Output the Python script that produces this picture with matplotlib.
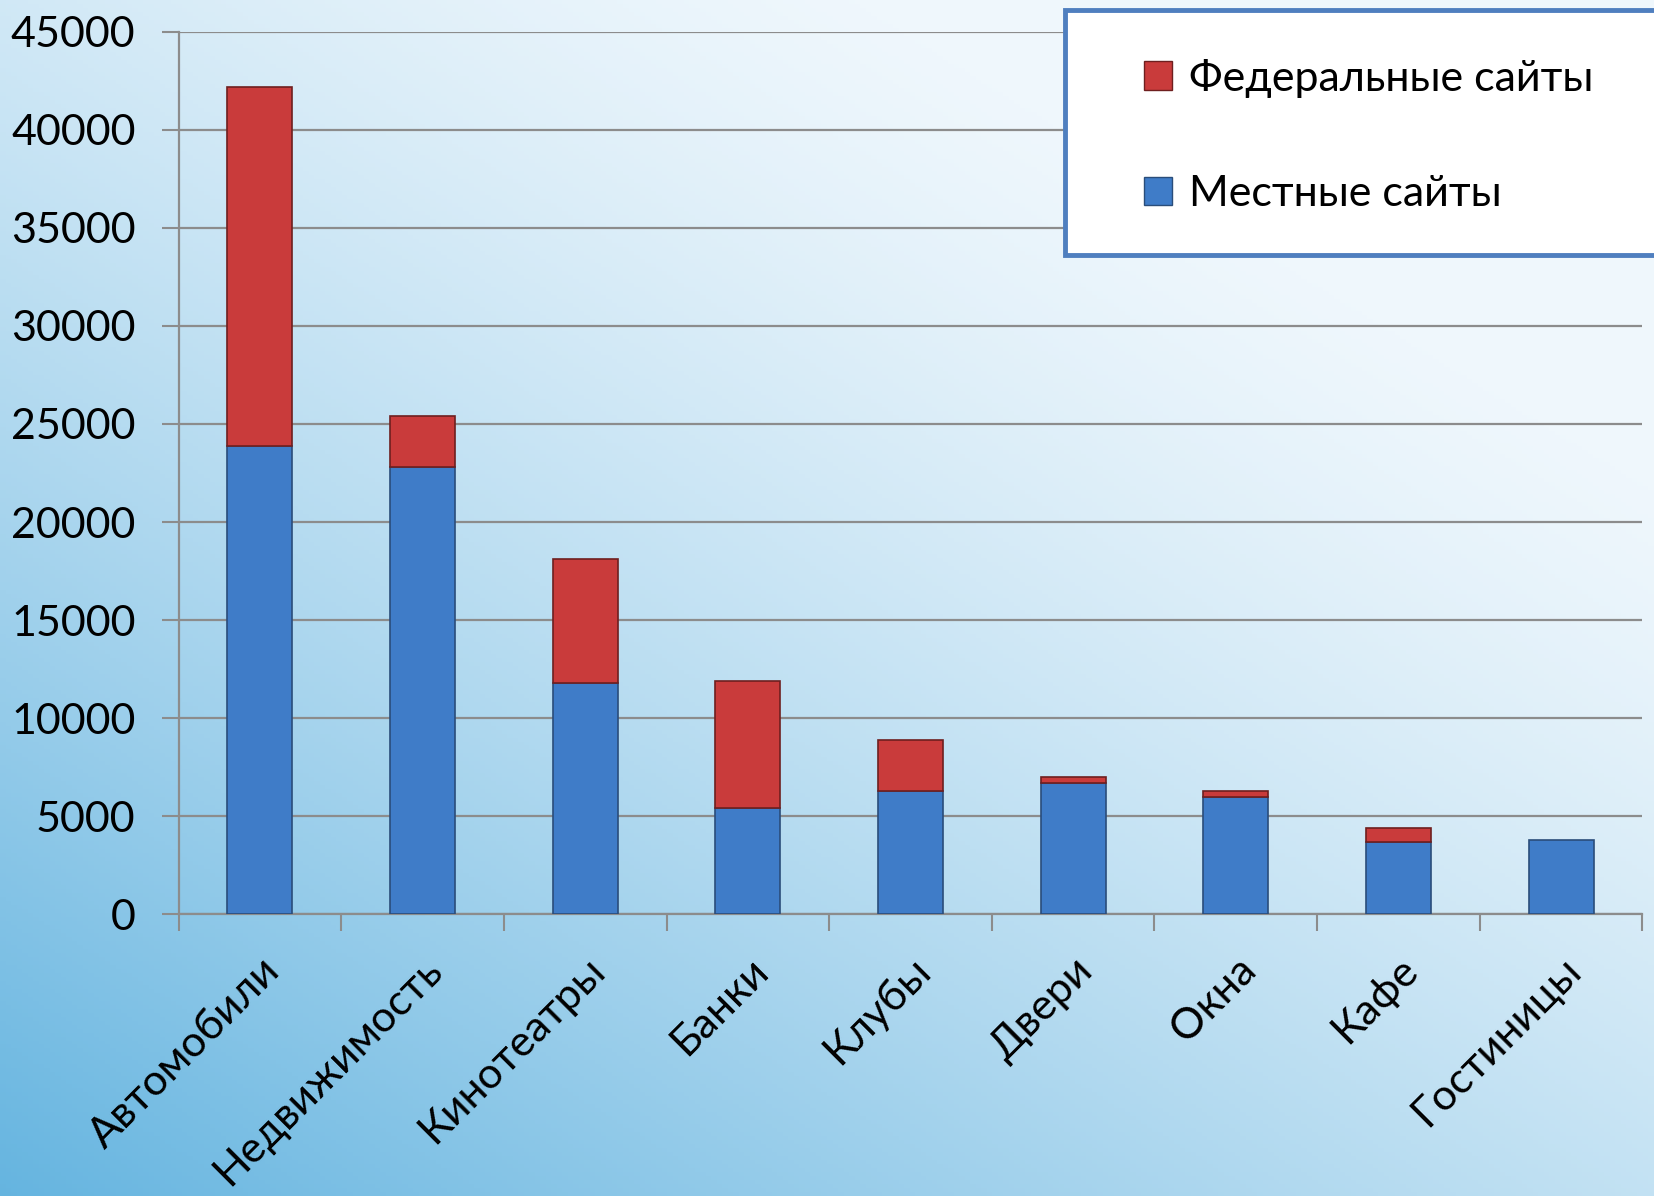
import numpy as np
import matplotlib.pyplot as plt
from matplotlib.patches import Rectangle, Patch

categories = ['Автомобили', 'Недвижимость', 'Кинотеатры', 'Банки', 'Клубы',
              'Двери', 'Окна', 'Кафе', 'Гостиницы']
local_sites = [23900, 22800, 11800, 5400, 6300, 6700, 6000, 3700, 3800]
federal_totals = [42200, 25400, 18100, 11900, 8900, 7000, 6300, 4400, 3800]
federal_sites = [t - l for t, l in zip(federal_totals, local_sites)]
yticks = [0, 5000, 10000, 15000, 20000, 25000, 30000, 35000, 40000, 45000]

plt.rcParams['font.family'] = ['Lato', 'Open Sans', 'DejaVu Sans']

fig = plt.figure(figsize=(16.54, 11.96), dpi=100)

# background gradient: light top-right, blue towards bottom-left
bg = fig.add_axes([0, 0, 1, 1], zorder=-10)
yy, xx = np.mgrid[0:1:300j, 0:1:300j]
t = np.clip(0.65 * yy + 0.55 * (1 - xx) - 0.25, 0, 1) ** 1.3
light = np.array([0.94, 0.97, 0.99])
dark = np.array([0.36, 0.69, 0.87])
img = light + (dark - light) * t[..., None]
bg.imshow(img, extent=[0, 1, 0, 1], aspect='auto', origin='upper')
bg.axis('off')

ax = fig.add_axes([0.108, 0.2355, 0.885, 0.738])
ax.set_facecolor('none')
x = np.arange(len(categories))
w = 0.40
ax.bar(x, local_sites, width=w, color='#3f7cc8', edgecolor='#2a4d7a', linewidth=1.2,
       label='Местные сайты', zorder=3)
ax.bar(x, federal_sites, width=w, bottom=local_sites, color='#c93b3b', edgecolor='#6e1f1f',
       linewidth=[1.2 if v > 0 else 0 for v in federal_sites],
       label='Федеральные сайты', zorder=3)

ax.set_xlim(-0.5, len(categories) - 0.5)
ax.set_ylim(0, 45000)
ax.set_yticks(yticks)
ax.set_yticklabels([str(v) for v in yticks], fontsize=31)
ax.yaxis.grid(True, color='#8c8c8c', linewidth=1.6, zorder=0)
ax.tick_params(axis='y', length=12, width=1.5, color='#8c8c8c', pad=19)

ax.set_xticks(x)
ax.set_xticklabels(categories, fontsize=31, rotation=45, ha='right', rotation_mode='anchor')
ax.set_xticks(np.arange(-0.5, len(categories)), minor=True)
ax.tick_params(axis='x', which='major', length=0, pad=26)
ax.tick_params(axis='x', which='minor', length=12, width=1.5, color='#8c8c8c')

for s in ['top', 'right']:
    ax.spines[s].set_visible(False)
for s in ['left', 'bottom']:
    ax.spines[s].set_color('#8c8c8c')
    ax.spines[s].set_linewidth(1.6)

# legend box
fig.patches.append(Rectangle((1065 / 1654, 1 - 255 / 1196), 0.40, 245 / 1196,
                             transform=fig.transFigure, facecolor='white',
                             edgecolor='#4f7fbf', linewidth=3.5, zorder=5))
handles = [Patch(facecolor='#c93b3b', edgecolor='#6e1f1f'),
           Patch(facecolor='#3f7cc8', edgecolor='#2a4d7a')]
fig.legend(handles, ['Федеральные сайты', 'Местные сайты'], loc='upper left',
           bbox_to_anchor=(1105 / 1654, 1 - 20 / 1196), frameon=False, fontsize=31,
           handlelength=0.65, handleheight=0.65, handletextpad=0.4, labelspacing=1.8)

fig.savefig('out.png', dpi=100)
